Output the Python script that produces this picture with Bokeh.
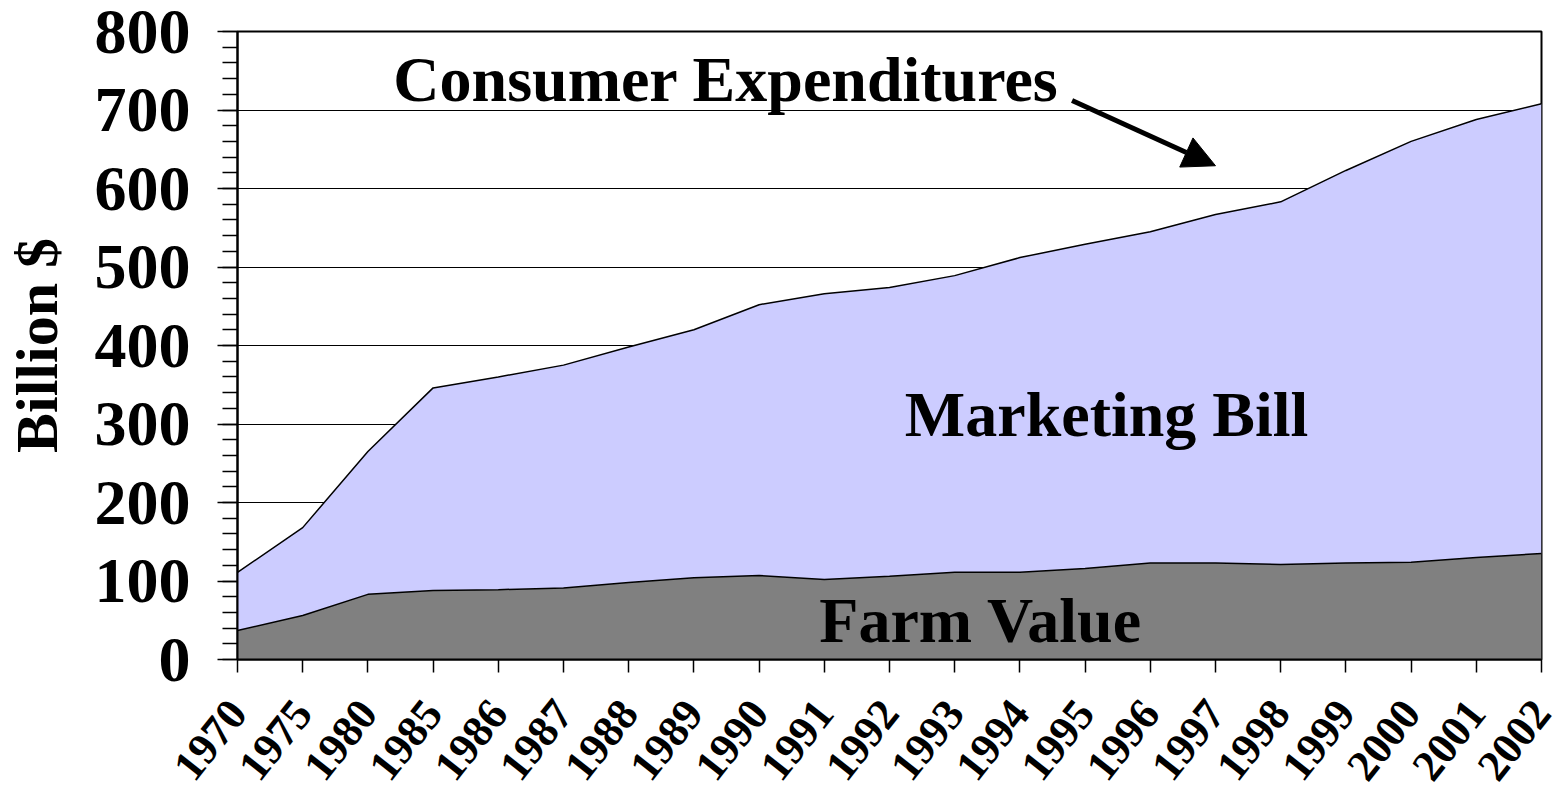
import math
from bokeh.plotting import figure
from bokeh.models import Range1d, FixedTicker, SingleIntervalTicker, Arrow, NormalHead
from bokeh.core.properties import value
from bokeh.embed import file_html
from bokeh.resources import INLINE

years = ["1970", "1975", "1980", "1985", "1986", "1987", "1988", "1989", "1990", "1991",
         "1992", "1993", "1994", "1995", "1996", "1997", "1998", "1999", "2000", "2001", "2002"]
consumer_expenditures = [111, 168, 265, 346, 360, 375, 398, 420, 452, 466,
                         474, 489, 512, 529, 545, 567, 583, 623, 660, 688, 708]
farm_value = [37, 56, 83, 88, 89, 91, 98, 104, 107, 102,
              106, 111, 111, 116, 123, 123, 121, 123, 124, 130, 135]

x = list(range(len(years)))
FONT = "Liberation Serif"

p = figure(width=1555, height=795, output_backend="svg", toolbar_location=None,
           x_range=Range1d(0, len(years) - 1), y_range=Range1d(0, 800),
           min_border_left=237, min_border_right=14, min_border_top=31, min_border_bottom=136)
p.background_fill_color = "white"
p.border_fill_color = "white"
p.outline_line_color = "black"
p.outline_line_width = 2

# areas
p.varea(x=x, y1=[0] * len(x), y2=farm_value, fill_color="#808080")
p.varea(x=x, y1=farm_value, y2=consumer_expenditures, fill_color="#ccccff")
p.line(x, farm_value, line_color="black", line_width=1.5)
p.line(x, consumer_expenditures, line_color="black", line_width=1.5)

# x axis
p.xaxis.ticker = FixedTicker(ticks=x)
p.xaxis.major_label_overrides = {i: y for i, y in enumerate(years)}
p.xaxis.major_label_orientation = 0.9
p.xaxis.major_label_text_font = FONT
p.xaxis.major_label_text_font_style = "bold"
p.xaxis.major_label_text_font_size = "44px"
p.xaxis.major_label_text_color = "black"
p.xaxis.major_tick_out = 13
p.xaxis.major_tick_in = 0
p.xaxis.minor_tick_out = 0
p.xaxis.axis_line_width = 2
p.xaxis.axis_line_color = "black"
p.xaxis.major_tick_line_color = "black"
p.xaxis.major_tick_line_width = 1.5
p.xaxis.major_label_standoff = 33
p.xgrid.visible = False

# y axis
p.yaxis.ticker = SingleIntervalTicker(interval=100, num_minor_ticks=5)
p.yaxis.major_label_text_font = FONT
p.yaxis.major_label_text_font_style = "bold"
p.yaxis.major_label_text_font_size = "64px"
p.yaxis.major_label_text_color = "black"
p.yaxis.major_tick_out = 20
p.yaxis.major_tick_in = 0
p.yaxis.minor_tick_out = 15
p.yaxis.minor_tick_in = 0
p.yaxis.major_tick_line_width = 1.5
p.yaxis.minor_tick_line_width = 1.5
p.yaxis.major_tick_line_color = "black"
p.yaxis.minor_tick_line_color = "black"
p.yaxis.axis_line_width = 2
p.yaxis.axis_line_color = "black"
p.yaxis.major_label_standoff = 27
p.yaxis.axis_label = "Billion $"
p.yaxis.axis_label_text_font = FONT
p.yaxis.axis_label_text_font_style = "bold"
p.yaxis.axis_label_text_font_size = "60px"
p.yaxis.axis_label_text_color = "black"
p.yaxis.axis_label_standoff = 22
p.ygrid.grid_line_color = "black"
p.ygrid.grid_line_width = 1.2

# annotations
p.text(x=[2.39], y=[739], text=["Consumer Expenditures"], text_font=value(FONT),
       text_font_style="bold", text_font_size="64px", text_color="black",
       text_align="left", text_baseline="alphabetic")
p.text(x=[13.33], y=[312], text=["Marketing Bill"], text_font=value(FONT),
       text_font_style="bold", text_font_size="64px", text_color="black",
       text_align="center", text_baseline="alphabetic")
p.text(x=[11.4], y=[50], text=["Farm Value"], text_font=value(FONT),
       text_font_style="bold", text_font_size="64px", text_color="black",
       text_align="center", text_baseline="alphabetic")
p.add_layout(Arrow(x_start=12.8, y_start=712, x_end=15.0, y_end=629,
                   line_color="black", line_width=5,
                   end=NormalHead(size=32, fill_color="black", line_color="black")))

open("out.html", "w").write(file_html(p, INLINE))
